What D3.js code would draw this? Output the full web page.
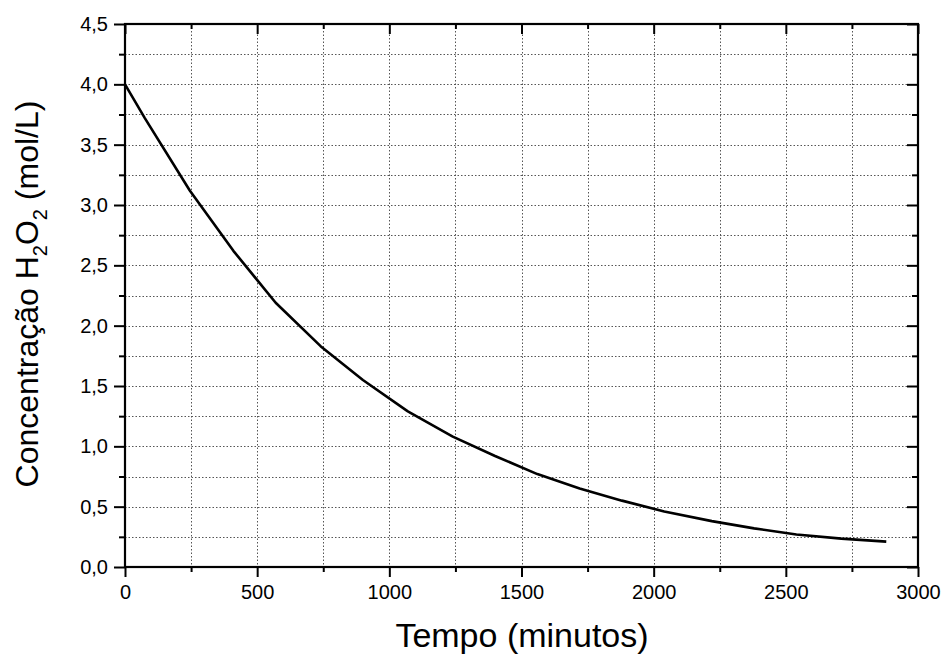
<!DOCTYPE html>
<html><head><meta charset="utf-8">
<script src="https://cdn.jsdelivr.net/npm/d3@7/dist/d3.min.js"></script>
<style>body{margin:0;background:#fff}svg{display:block}text{font-family:"Liberation Sans",Arial,sans-serif;fill:#000}</style>
</head><body><svg id="c" width="945" height="657"></svg>
<script>
const timeMin = [0, 75, 245, 410, 570, 740, 900, 1070, 1240, 1400, 1560, 1720, 1880, 2040, 2220, 2380, 2540, 2710, 2880];
const concH2O2 = [4.00, 3.72, 3.12, 2.62, 2.19, 1.83, 1.55, 1.29, 1.08, 0.92, 0.77, 0.65, 0.55, 0.46, 0.38, 0.32, 0.27, 0.235, 0.21];
const xMajor = [0, 500, 1000, 1500, 2000, 2500, 3000];
const xMinor = [250, 750, 1250, 1750, 2250, 2750];
const yMajor = [0, 0.5, 1, 1.5, 2, 2.5, 3, 3.5, 4, 4.5];
const yMinor = [0.25, 0.75, 1.25, 1.75, 2.25, 2.75, 3.25, 3.75, 4.25];

const svg = d3.select("#c");
const L = 125, R = 918, T = 24, B = 567;
const x = d3.scaleLinear().domain([0, 3000]).range([L, R]);
const y = d3.scaleLinear().domain([0, 4.5]).range([B, T]);
const fmt = d => d3.format(".1f")(d).replace(".", ",");

// grid
const g = svg.append("g");
const gridStyle = s => s.attr("stroke", "#555").attr("stroke-width", 1).attr("stroke-dasharray", "1.5,2");
xMajor.concat(xMinor).filter(v => v > 0 && v < 3000).forEach(v => {
  gridStyle(g.append("line").attr("x1", Math.round(x(v)) + 0.5).attr("x2", Math.round(x(v)) + 0.5).attr("y1", T).attr("y2", B));
});
yMajor.concat(yMinor).filter(v => v > 0 && v < 4.5).forEach(v => {
  gridStyle(g.append("line").attr("y1", Math.round(y(v)) + 0.5).attr("y2", Math.round(y(v)) + 0.5).attr("x1", L).attr("x2", R));
});

// axes
const fs = 20;
const axB = svg.append("g").attr("transform", `translate(0,${B})`).call(d3.axisBottom(x).tickValues(xMajor).tickSize(10).tickPadding(8).tickFormat(d3.format("d")));
const axBm = svg.append("g").attr("transform", `translate(0,${B})`).call(d3.axisBottom(x).tickValues(xMinor).tickSize(5).tickFormat(""));
const axT = svg.append("g").attr("transform", `translate(0,${T})`).call(d3.axisBottom(x).tickValues(xMajor).tickSize(10).tickFormat(""));
const axTm = svg.append("g").attr("transform", `translate(0,${T})`).call(d3.axisBottom(x).tickValues(xMinor).tickSize(5).tickFormat(""));
const axL = svg.append("g").attr("transform", `translate(${L},0)`).call(d3.axisLeft(y).tickValues(yMajor).tickSize(11).tickPadding(6).tickFormat(fmt));
const axLm = svg.append("g").attr("transform", `translate(${L},0)`).call(d3.axisLeft(y).tickValues(yMinor).tickSize(6).tickFormat(""));
const axR = svg.append("g").attr("transform", `translate(${R},0)`).call(d3.axisLeft(y).tickValues(yMajor).tickSize(11).tickFormat(""));
const axRm = svg.append("g").attr("transform", `translate(${R},0)`).call(d3.axisLeft(y).tickValues(yMinor).tickSize(6).tickFormat(""));
[axB, axBm, axT, axTm, axL, axLm, axR, axRm].forEach(a => {
  a.attr("font-size", fs).attr("font-family", "Liberation Sans, Arial, sans-serif");
  a.select(".domain").remove();
  a.selectAll(".tick line").attr("stroke", "#000").attr("stroke-width", 2);
  a.selectAll(".tick text").attr("fill", "#000");
});

// frame
svg.append("rect").attr("x", L).attr("y", T).attr("width", R - L).attr("height", B - T)
  .attr("fill", "none").attr("stroke", "#000").attr("stroke-width", 2.2);

// curve
svg.append("path").datum(timeMin.map((t, i) => [t, concH2O2[i]]))
  .attr("fill", "none").attr("stroke", "#000").attr("stroke-width", 2.6).attr("stroke-linejoin", "round")
  .attr("d", d3.line().x(d => x(d[0])).y(d => y(d[1])));

// titles
svg.append("text").attr("x", 522).attr("y", 647).attr("text-anchor", "middle").attr("font-size", 34).text("Tempo (minutos)");
const yt = svg.append("text").attr("transform", `translate(38,294) rotate(-90)`).attr("text-anchor", "middle").attr("font-size", 32);
yt.append("tspan").text("Concentração H");
yt.append("tspan").attr("font-size", 20).attr("dy", 9).text("2");
yt.append("tspan").attr("dy", -9).text("O");
yt.append("tspan").attr("font-size", 20).attr("dy", 9).text("2");
yt.append("tspan").attr("dy", -9).text(" (mol/L)");
</script></body></html>
